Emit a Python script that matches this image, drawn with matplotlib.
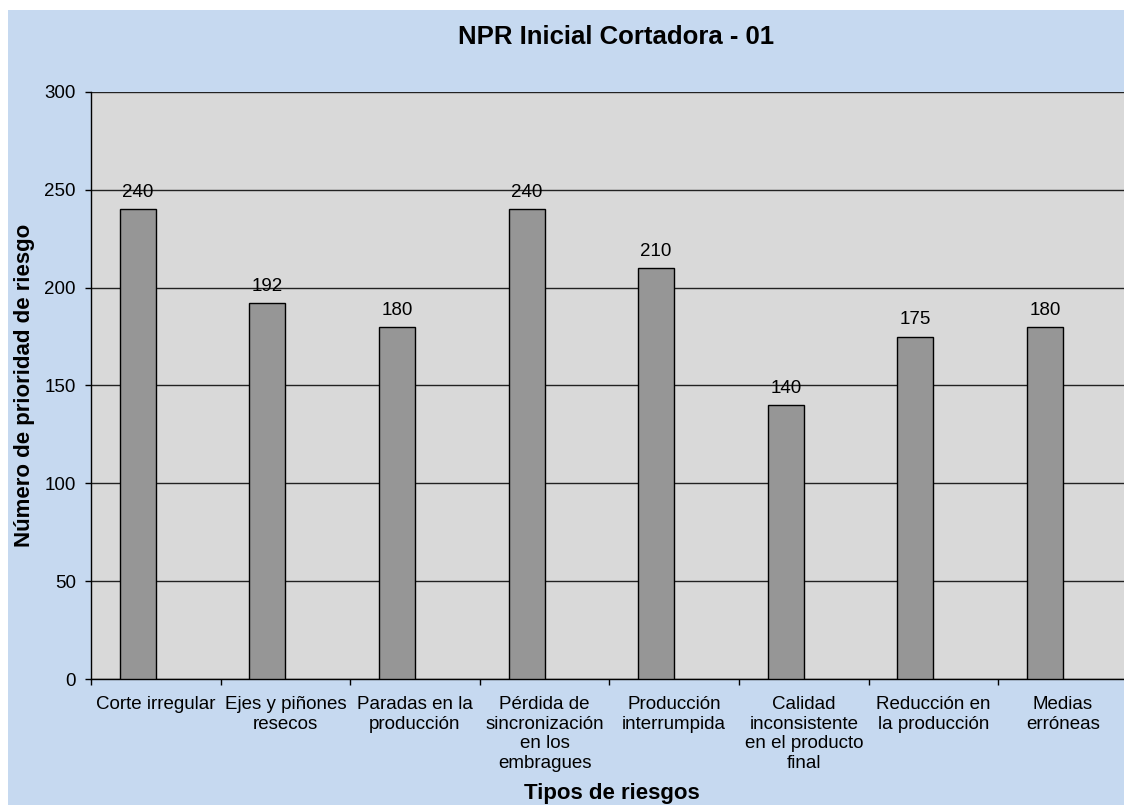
import matplotlib
matplotlib.use("Agg")
import matplotlib.pyplot as plt
from matplotlib.patches import Rectangle
import numpy as np

categories = [
    "Corte irregular",
    "Ejes y piñones\nresecos",
    "Paradas en la\nproducción",
    "Pérdida de\nsincronización\nen los\nembragues",
    "Producción\ninterrumpida",
    "Calidad\ninconsistente\nen el producto\nfinal",
    "Reducción en\nla producción",
    "Medias\nerróneas",
]
values = [240, 192, 180, 240, 210, 140, 175, 180]
yticks = [0, 50, 100, 150, 200, 250, 300]

title = "NPR Inicial Cortadora - 01"
ylabel = "Número de prioridad de riesgo"
xlabel = "Tipos de riesgos"

plt.rcParams['font.family'] = ['Liberation Sans', 'DejaVu Sans']

W, H = 1124, 805
fig = plt.figure(figsize=(W / 100, H / 100), dpi=100, facecolor='white')

# blue chart background (white strip at top and left as in reference)
bg = Rectangle((8 / W, 0), 1 - 8 / W, 1 - 10 / H,
               transform=fig.transFigure, facecolor='#C6D9F0',
               edgecolor='none', zorder=-10)
fig.add_artist(bg)

slot = 129.6
left_px, top_px, bottom_px = 91, 92, 679
n = len(categories)
ax = fig.add_axes([left_px / W, (H - bottom_px) / H,
                   n * slot / W, (bottom_px - top_px) / H])
ax.set_zorder(1)
ax.set_facecolor('#D9D9D9')

centers = np.arange(n) + 0.5
bw = 0.278
bars = ax.bar(centers - bw, values, width=bw, align='edge',
              color='#969696', edgecolor='black', linewidth=1.0, zorder=3)

for x, v in zip(centers - bw / 2, values):
    ax.text(x, v + 8.5, str(v), ha='center', va='center',
            fontsize=13.5, color='black', zorder=4)

ax.set_xlim(0, n)
ax.set_ylim(0, 300)
ax.set_yticks(yticks)
ax.set_yticklabels([str(t) for t in yticks], fontsize=13.5)
ax.yaxis.grid(True, color='#222222', linewidth=1.0, zorder=1)
ax.set_axisbelow(True)

ax.set_xticks(np.arange(n + 1))
ax.set_xticklabels([''] * (n + 1))
ax.set_xticks(centers, minor=True)
ax.set_xticklabels(categories, minor=True, fontsize=13.5, ha='center',
                   va='top', linespacing=1.22)
ax.tick_params(axis='x', which='minor', length=0, pad=12)
ax.tick_params(axis='x', which='major', length=4, width=1, color='black')
ax.tick_params(axis='y', length=4, width=1, color='black', pad=7)

for s in ['top', 'right']:
    ax.spines[s].set_visible(False)
ax.spines['left'].set_color('black')
ax.spines['bottom'].set_color('black')
ax.spines['left'].set_linewidth(1.0)
ax.spines['bottom'].set_linewidth(1.0)

fig.text(616.5 / W, 1 - 37 / H, title, ha='center', va='center',
         fontsize=18.5, fontweight='bold')
fig.text(25 / W, 1 - 385 / H, ylabel, ha='center', va='center',
         rotation=90, fontsize=16, fontweight='bold')
fig.text(612 / W, 1 - 793 / H, xlabel, ha='center', va='center',
         fontsize=16, fontweight='bold')

fig.savefig("out.png", dpi=100, facecolor=fig.get_facecolor())
